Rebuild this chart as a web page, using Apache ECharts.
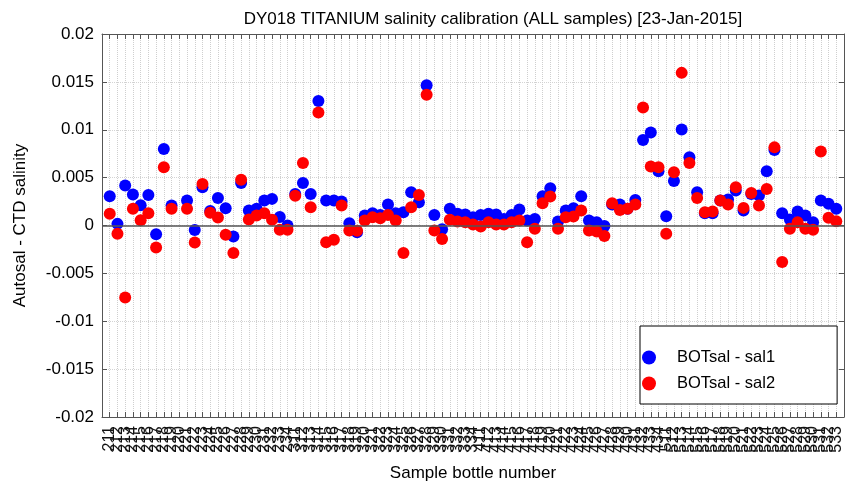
<!DOCTYPE html>
<html>
<head>
<meta charset="utf-8">
<script src="https://cdn.jsdelivr.net/npm/echarts@6/dist/echarts.min.js"></script>
<style>
html,body{margin:0;padding:0;background:#fff;}
#chart{width:868px;height:489px;}
</style>
</head>
<body>
<div id="chart"></div>
<script>
// Tick labels (sample bottle numbers)
var bottleLabels = [
 '211','212','213','214','215','216','217','218','219','220','221','222','223','224','225','226','227','228','229','230','231','232','233','234',
 '311','312','313','314','315','316','317','318','319','320','321','322','323','324','325','326','327','328','329','330','331','332','333','334',
 '411','412','413','414','415','416','417','418','419','420','421','422','423','424','425','426','427','428','429','430','431','432','433','434',
 '511','512','513','514','515','516','517','518','519','520','521','522','523','524','525','526','527','528','529','530','531','532','533'
];
// BOTsal - sal1
var sal1 = [
 0.00306, 0.00017, 0.00417, 0.00323, 0.00212, 0.00319, -0.00092, 0.00799, 0.00208, null,
 0.00260, -0.00048, 0.00399, 0.00152, 0.00288, 0.00181, -0.00115, 0.00444, 0.00156, 0.00174,
 0.00260, 0.00278, 0.00090, 0.00000, 0.00330, 0.00444, 0.00330, 0.01300, 0.00260, 0.00260,
 0.00250, 0.00024, -0.00070, 0.00104, 0.00128, 0.00110, 0.00219, 0.00128, 0.00139, 0.00347,
 0.00243, 0.01465, 0.00110, -0.00040, 0.00174, 0.00122, 0.00115, 0.00087, 0.00110, 0.00122,
 0.00115, 0.00069, 0.00110, 0.00167, 0.00052, 0.00069, 0.00306, 0.00389, 0.00042, 0.00156,
 0.00180, 0.00306, 0.00052, 0.00035, -0.00005, 0.00220, 0.00219, 0.00174, 0.00267, 0.00892,
 0.00972, 0.00566, 0.00097, 0.00465, 0.01003, 0.00712, 0.00347, 0.00128, 0.00128, 0.00260,
 0.00271, 0.00365, 0.00156, 0.00330, 0.00313, 0.00566, 0.00788, 0.00128, 0.00063, 0.00146,
 0.00104, 0.00035, 0.00260, 0.00226, 0.00174
];
// BOTsal - sal2
var sal2 = [
 0.00122, -0.00085, -0.00753, 0.00174, 0.00055, 0.00128, -0.00229, 0.00608, 0.00174, null,
 0.00174, -0.00177, 0.00434, 0.00133, 0.00083, -0.00097, -0.00288, 0.00479, 0.00063, 0.00104,
 0.00128, 0.00059, -0.00045, -0.00045, 0.00310, 0.00653, 0.00190, 0.01180, -0.00174, -0.00150,
 0.00208, -0.00052, -0.00055, 0.00052, 0.00087, 0.00076, 0.00110, 0.00052, -0.00288, 0.00191,
 0.00319, 0.01365, -0.00052, -0.00140, 0.00059, 0.00042, 0.00035, 0.00010, -0.00010, 0.00035,
 0.00010, 0.00010, 0.00035, 0.00052, -0.00174, -0.00035, 0.00233, 0.00302, -0.00035, 0.00087,
 0.00095, 0.00156, -0.00052, -0.00062, -0.00110, 0.00233, 0.00163, 0.00174, 0.00219, 0.01233,
 0.00615, 0.00608, -0.00087, 0.00556, 0.01594, 0.00653, 0.00288, 0.00139, 0.00146, 0.00260,
 0.00219, 0.00399, 0.00184, 0.00340, 0.00208, 0.00382, 0.00816, -0.00382, -0.00035, 0.00035,
 -0.00035, -0.00045, 0.00774, 0.00080, 0.00045
];
var yTicks = [-0.02, -0.015, -0.01, -0.005, 0, 0.005, 0.01, 0.015, 0.02];

var FONT = "'Liberation Sans', Arial, sans-serif";
function pairs(arr){
  return arr.map(function(v,i){ return [i+1, v === null ? '-' : v]; });
}
var nCat = bottleLabels.length;
var chart = echarts.init(document.getElementById('chart'), null, {renderer:'canvas'});
var axisCol = '#555';
var option = {
  backgroundColor:'#fff',
  animation:false,
  textStyle:{fontFamily:FONT},
  title:{
    text:'DY018 TITANIUM salinity calibration (ALL samples) [23-Jan-2015]',
    left:488, top:6, textAlign:'center',
    textStyle:{fontFamily:FONT, fontSize:17, fontWeight:'normal', color:'#000'}
  },
  grid:{left:102, right:24, top:34, bottom:72, containLabel:false},
  legend:{
    orient:'vertical', left:640, top:326,
    padding:[23, 62, 12, 2], itemGap:9,
    itemWidth:14, itemHeight:14, icon:'circle',
    backgroundColor:'#fff', borderColor:'#000', borderWidth:1,
    textStyle:{fontFamily:FONT, fontSize:16.5, color:'#000', padding:[0,0,0,16]},
    data:['BOTsal - sal1','BOTsal - sal2']
  },
  xAxis:[{
    type:'value', min:0, max:nCat+1, interval:1,
    name:'Sample bottle number', nameLocation:'middle', nameGap:48,
    nameTextStyle:{fontFamily:FONT, fontSize:17, color:'#000'},
    axisLine:{show:true, onZero:false, lineStyle:{color:axisCol}},
    axisTick:{show:true, inside:true, length:5, lineStyle:{color:axisCol}},
    axisLabel:{
      rotate:90, fontSize:16, color:'#111', margin:9, fontFamily:FONT,
      showMinLabel:true, showMaxLabel:true,
      formatter:function(v){ return bottleLabels[v-1] || ''; }
    },
    splitLine:{show:true, lineStyle:{color:'#cfcfcf', type:'dotted', width:1}}
  },{
    type:'value', position:'top', min:0, max:nCat+1, interval:1,
    axisLine:{show:true, onZero:false, lineStyle:{color:axisCol}},
    axisTick:{show:true, inside:true, length:5, lineStyle:{color:axisCol}},
    axisLabel:{show:false}, splitLine:{show:false}
  }],
  yAxis:[{
    type:'value', min:yTicks[0], max:yTicks[yTicks.length-1], interval:0.005,
    name:'Autosal - CTD salinity', nameLocation:'middle', nameGap:73,
    nameTextStyle:{fontFamily:FONT, fontSize:17, color:'#000'},
    axisLine:{show:true, onZero:false, lineStyle:{color:axisCol}},
    axisTick:{show:true, inside:true, length:5, lineStyle:{color:axisCol}},
    axisLabel:{fontSize:17, color:'#000', margin:8, fontFamily:FONT,
      formatter:function(v){ return String(Math.round(v*1000)/1000); }},
    splitLine:{show:true, lineStyle:{color:'#d4d4d4', type:'dotted', width:1}}
  },{
    type:'value', position:'right', min:yTicks[0], max:yTicks[yTicks.length-1], interval:0.005,
    axisLine:{show:true, onZero:false, lineStyle:{color:axisCol}},
    axisTick:{show:true, inside:true, length:5, lineStyle:{color:axisCol}},
    axisLabel:{show:false}, splitLine:{show:false}
  }],
  series:[{
    name:'BOTsal - sal1', type:'scatter', symbol:'circle', symbolSize:12,
    itemStyle:{color:'#0000ff', opacity:1}, data:pairs(sal1), z:3,
    markLine:{
      silent:true, symbol:['none','none'], label:{show:false},
      lineStyle:{color:'#555', type:'solid', width:1.5},
      data:[{yAxis:0}]
    }
  },{
    name:'BOTsal - sal2', type:'scatter', symbol:'circle', symbolSize:12,
    itemStyle:{color:'#ff0000', opacity:1}, data:pairs(sal2), z:4
  }]
};
chart.setOption(option);
</script>
</body>
</html>
